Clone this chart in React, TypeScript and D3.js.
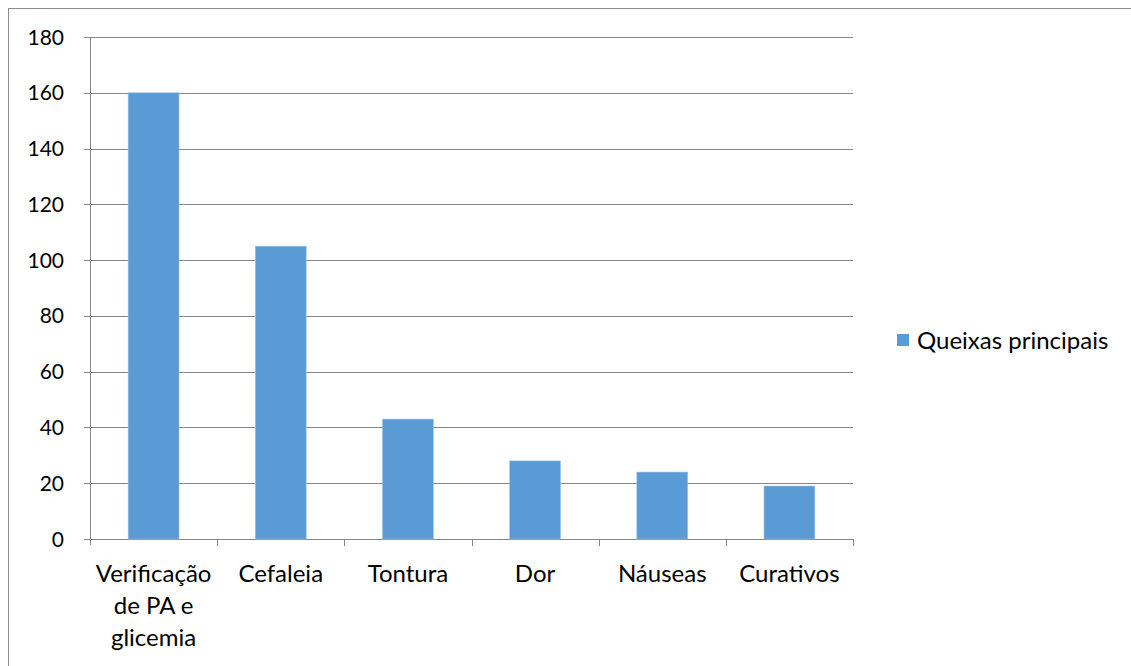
import React from "react";
import * as d3 from "d3";

const categories: string[][] = [
  ["Verificação", "de PA e", "glicemia"],
  ["Cefaleia"],
  ["Tontura"],
  ["Dor"],
  ["Náuseas"],
  ["Curativos"],
];
const values: number[] = [160, 105, 43, 28, 24, 19];
const yTicks: number[] = [0, 20, 40, 60, 80, 100, 120, 140, 160, 180];
const seriesName = "Queixas principais";

const W = 1131;
const H = 666;
const left = 90;
const right = 853;
const top = 37;
const bottom = 539;
const font = "Lato, 'Open Sans', sans-serif";

export default function App() {
  const keys = categories.map((c) => c.join(" "));
  const x = d3.scaleBand<string>().domain(keys).range([left, right]).paddingInner(0.6).paddingOuter(0.3);
  const xb = d3.scaleBand<string>().domain(keys).range([left, right]);
  const y = d3.scaleLinear().domain([0, 180]).range([bottom, top]);

  return (
    <svg width={W} height={H} style={{ position: "absolute", left: 0, top: 0 }}>
      <rect x={0} y={0} width={W} height={H} fill="#fff" />
      <rect x={8.5} y={8.5} width={W + 20} height={H + 20} fill="none" stroke="#8c8c8c" strokeWidth={1} />
      {yTicks.map((t) => (
        <g key={t}>
          <line x1={left - 6} x2={right} y1={Math.round(y(t)) + 0.5} y2={Math.round(y(t)) + 0.5} stroke="#868686" strokeWidth={1} />
          <text x={64} y={y(t)} dy="0.36em" textAnchor="end" fontFamily={font} fontSize={21} fill="#000">
            {t}
          </text>
        </g>
      ))}
      <line x1={left + 0.5} x2={left + 0.5} y1={top} y2={bottom + 6} stroke="#868686" />
      {keys.map((k) => (
        <line key={"t" + k} x1={Math.round(xb(k)! + xb.bandwidth()) + 0.5} x2={Math.round(xb(k)! + xb.bandwidth()) + 0.5} y1={bottom} y2={bottom + 7} stroke="#868686" />
      ))}
      {keys.map((k, i) => (
        <rect key={"b" + k} x={x(k)} y={y(values[i])} width={x.bandwidth()} height={y(0) - y(values[i])} fill="#5B9BD5" stroke="#9dc3e6" strokeWidth={0.6} />
      ))}
      {categories.map((lines, i) => (
        <text key={"c" + i} x={xb(keys[i])! + xb.bandwidth() / 2} y={573} textAnchor="middle" fontFamily={font} fontSize={24} fill="#000">
          {lines.map((l, j) => (
            <tspan key={j} x={xb(keys[i])! + xb.bandwidth() / 2} dy={j === 0 ? "0.36em" : 32}>
              {l}
            </tspan>
          ))}
        </text>
      ))}
      <rect x={897} y={334} width={12} height={12} fill="#5B9BD5" />
      <text x={917} y={340} dy="0.36em" fontFamily={font} fontSize={24} fill="#000">
        {seriesName}
      </text>
    </svg>
  );
}
